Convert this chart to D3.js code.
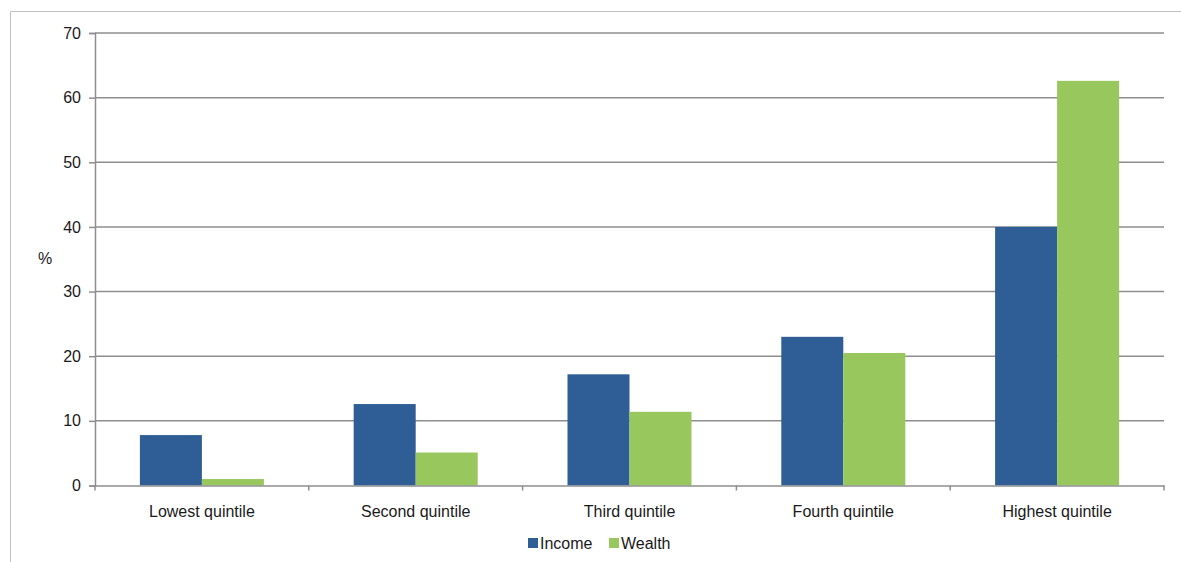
<!DOCTYPE html>
<html>
<head>
<meta charset="utf-8">
<script src="https://cdn.jsdelivr.net/npm/d3@7"></script>
<style>
  html, body { margin: 0; padding: 0; background: #fff; }
  svg { display: block; }
  text { font-family: "Liberation Sans", Arial, sans-serif; fill: #1a1a1a; }
</style>
</head>
<body>
<svg id="chart" width="1181" height="562"></svg>
<script>
const categories = ["Lowest quintile", "Second quintile", "Third quintile", "Fourth quintile", "Highest quintile"];
const seriesNames = ["Income", "Wealth"];
const incomeValues = [7.8, 12.6, 17.2, 23.0, 40.0];
const wealthValues = [1.0, 5.1, 11.4, 20.5, 62.6];
const yTicks = [0, 10, 20, 30, 40, 50, 60, 70];
const colors = ["#2E5E95", "#98C85D"];

const svg = d3.select("#chart");
const W = 1181, H = 562;
const plot = { left: 95, right: 1164, top: 33, bottom: 485.5 };

// outer frame (top and left edges visible)
svg.append("path")
  .attr("d", `M10.5,${H} V11.5 H${W}`)
  .attr("fill", "none").attr("stroke", "#c0c0c0").attr("stroke-width", 1);

const x = d3.scaleBand().domain(categories).range([plot.left, plot.right]).paddingInner(0).paddingOuter(0);
const inner = d3.scaleBand().domain(seriesNames).range([0, x.bandwidth()]).paddingInner(0).paddingOuter(0.724);
const y = d3.scaleLinear().domain([0, 70]).range([plot.bottom, plot.top]);

// gridlines
svg.append("g").selectAll("line").data(yTicks.filter(t => t > 0)).join("line")
  .attr("x1", plot.left).attr("x2", plot.right)
  .attr("y1", d => y(d)).attr("y2", d => y(d))
  .attr("stroke", "#8e8e8e").attr("stroke-width", 1.5);

// bars
const data = categories.map((c, i) => ({ cat: c, vals: [incomeValues[i], wealthValues[i]] }));
const groups = svg.append("g").selectAll("g").data(data).join("g")
  .attr("transform", d => `translate(${x(d.cat)},0)`);
groups.selectAll("rect").data(d => d.vals.map((v, j) => ({ name: seriesNames[j], v, j }))).join("rect")
  .attr("x", d => inner(d.name))
  .attr("width", inner.bandwidth())
  .attr("y", d => y(d.v))
  .attr("height", d => y(0) - y(d.v))
  .attr("fill", d => colors[d.j]);

// y axis
const yAxis = d3.axisLeft(y).tickValues(yTicks).tickSize(6).tickPadding(8);
const gy = svg.append("g").attr("transform", `translate(${plot.left},0)`).call(yAxis);
gy.select(".domain").attr("stroke", "#8e8e8e").attr("stroke-width", 1.5);
gy.selectAll(".tick line").attr("stroke", "#8e8e8e").attr("stroke-width", 1.5);
gy.selectAll(".tick text").attr("font-size", 16).attr("font-family", '"Liberation Sans", Arial, sans-serif').attr("fill", "#1a1a1a");

// x axis
const xAxis = d3.axisBottom(x).tickSize(0).tickPadding(20);
const gx = svg.append("g").attr("transform", `translate(0,${plot.bottom})`).call(xAxis);
gx.select(".domain").attr("stroke", "#8e8e8e").attr("stroke-width", 1.5);
gx.selectAll(".tick text").attr("font-size", 16).attr("font-family", '"Liberation Sans", Arial, sans-serif').attr("fill", "#1a1a1a");
// boundary ticks between categories
const bounds = categories.map(c => x(c)).concat([plot.right]);
gx.append("g").selectAll("line").data(bounds).join("line")
  .attr("x1", d => d).attr("x2", d => d).attr("y1", 0).attr("y2", 5)
  .attr("stroke", "#8e8e8e").attr("stroke-width", 1.5);

// % label
svg.append("text").attr("x", 38).attr("y", 264).attr("font-size", 16).text("%");

// legend
const legendItems = [{ name: "Income", x: 528 }, { name: "Wealth", x: 609 }];
const lg = svg.append("g").selectAll("g").data(legendItems).join("g")
  .attr("transform", d => `translate(${d.x},0)`);
lg.append("rect").attr("x", 0).attr("y", 538).attr("width", 10).attr("height", 10)
  .attr("fill", (d, i) => colors[i]);
lg.append("text").attr("x", 12).attr("y", 548.5).attr("font-size", 16).text(d => d.name);
</script>
</body>
</html>
